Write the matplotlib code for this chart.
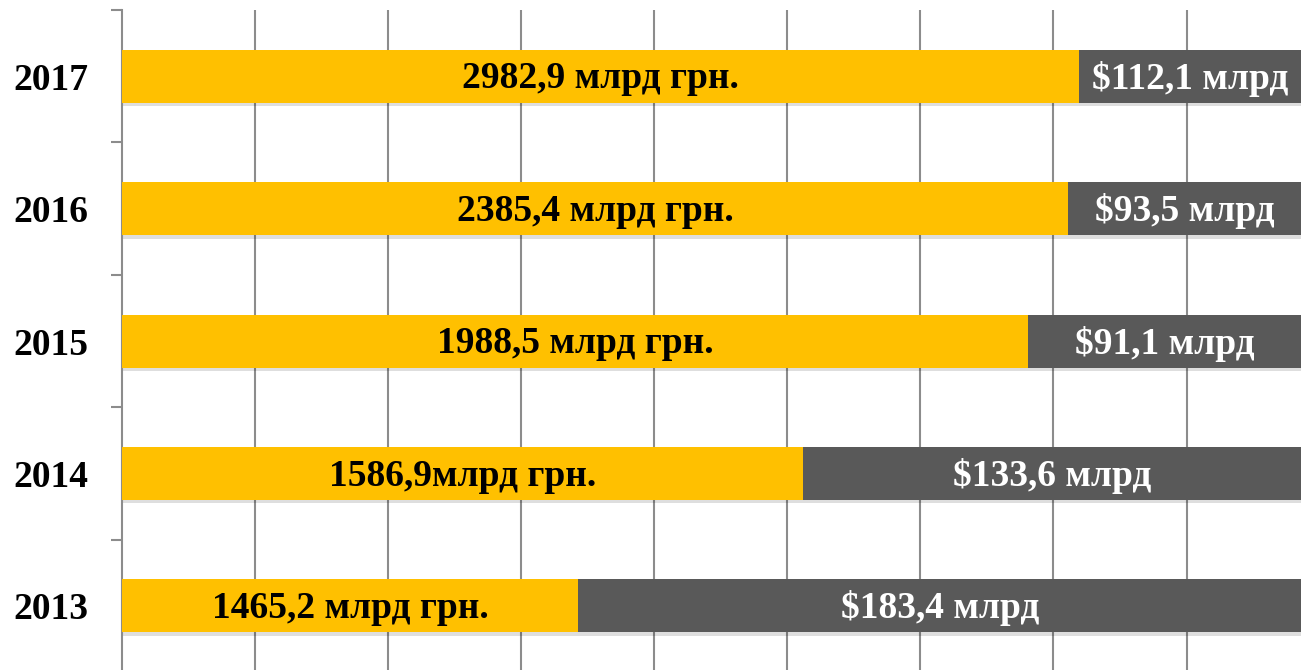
import matplotlib
matplotlib.use('agg')
import matplotlib.pyplot as plt
import matplotlib.patheffects as pe
import numpy as np

# data (bar lengths, in gridline units)
years = ["2013", "2014", "2015", "2016", "2017"]
grn_labels = ["1465,2 млрд грн.", "1586,9млрд грн.", "1988,5 млрд грн.",
              "2385,4 млрд грн.", "2982,9 млрд грн."]
usd_labels = ["$183,4 млрд", "$133,6 млрд", "$91,1 млрд",
              "$93,5 млрд", "$112,1 млрд"]
grn_len = [3.43, 5.12, 6.81, 7.11, 7.19]
usd_len = [5.43, 3.74, 2.05, 1.75, 1.67]

yellow = "#FFC000"
grey = "#595959"
axcol = "#8C8C8C"

fig = plt.figure(figsize=(13.01, 6.70), dpi=100)
ax = fig.add_axes([122 / 1301, -0.003, 1 - 122 / 1301, 0.988])

y = np.arange(len(years))
shadow = [pe.SimplePatchShadow(offset=(1, -2.5), shadow_rgbFace="#000000", alpha=0.13), pe.Normal()]
b1 = ax.barh(y, grn_len, height=0.4, color=yellow, zorder=3)
b2 = ax.barh(y, usd_len, left=grn_len, height=0.4, color=grey, zorder=3)
for b in list(b1) + list(b2):
    b.set_path_effects(shadow)

font = dict(family="Liberation Serif", weight="bold")
xmax = 8.86
for i in range(len(years)):
    ax.text(grn_len[i] / 2, y[i] - 0.02, grn_labels[i], ha="center", va="center",
            color="black", fontsize=27, zorder=5, **font)
    right = min(grn_len[i] + usd_len[i], xmax)
    ax.text((grn_len[i] + right) / 2, y[i] - 0.02, usd_labels[i], ha="center", va="center",
            color="white", fontsize=27, zorder=5, **font)

ax.set_xlim(0, xmax)
ax.set_ylim(-0.5, 4.5)
ax.set_xticks(np.arange(1, 9))
ax.set_xticklabels([])
ax.tick_params(axis="x", length=0)
ax.grid(axis="x", color=axcol, linewidth=1.5, zorder=0)

ax.set_yticks(y)
ax.set_yticklabels(years, fontsize=27, **font)
ax.tick_params(axis="y", which="major", length=0, pad=24)
ax.set_yticks(np.arange(-0.5, 5.0, 1), minor=True)
ax.tick_params(axis="y", which="minor", length=8, width=1.5, color=axcol)

for s in ["top", "right", "bottom"]:
    ax.spines[s].set_visible(False)
ax.spines["left"].set_color(axcol)
ax.spines["left"].set_linewidth(1.5)
ax.set_axisbelow(True)

fig.savefig("out.png", dpi=100)
